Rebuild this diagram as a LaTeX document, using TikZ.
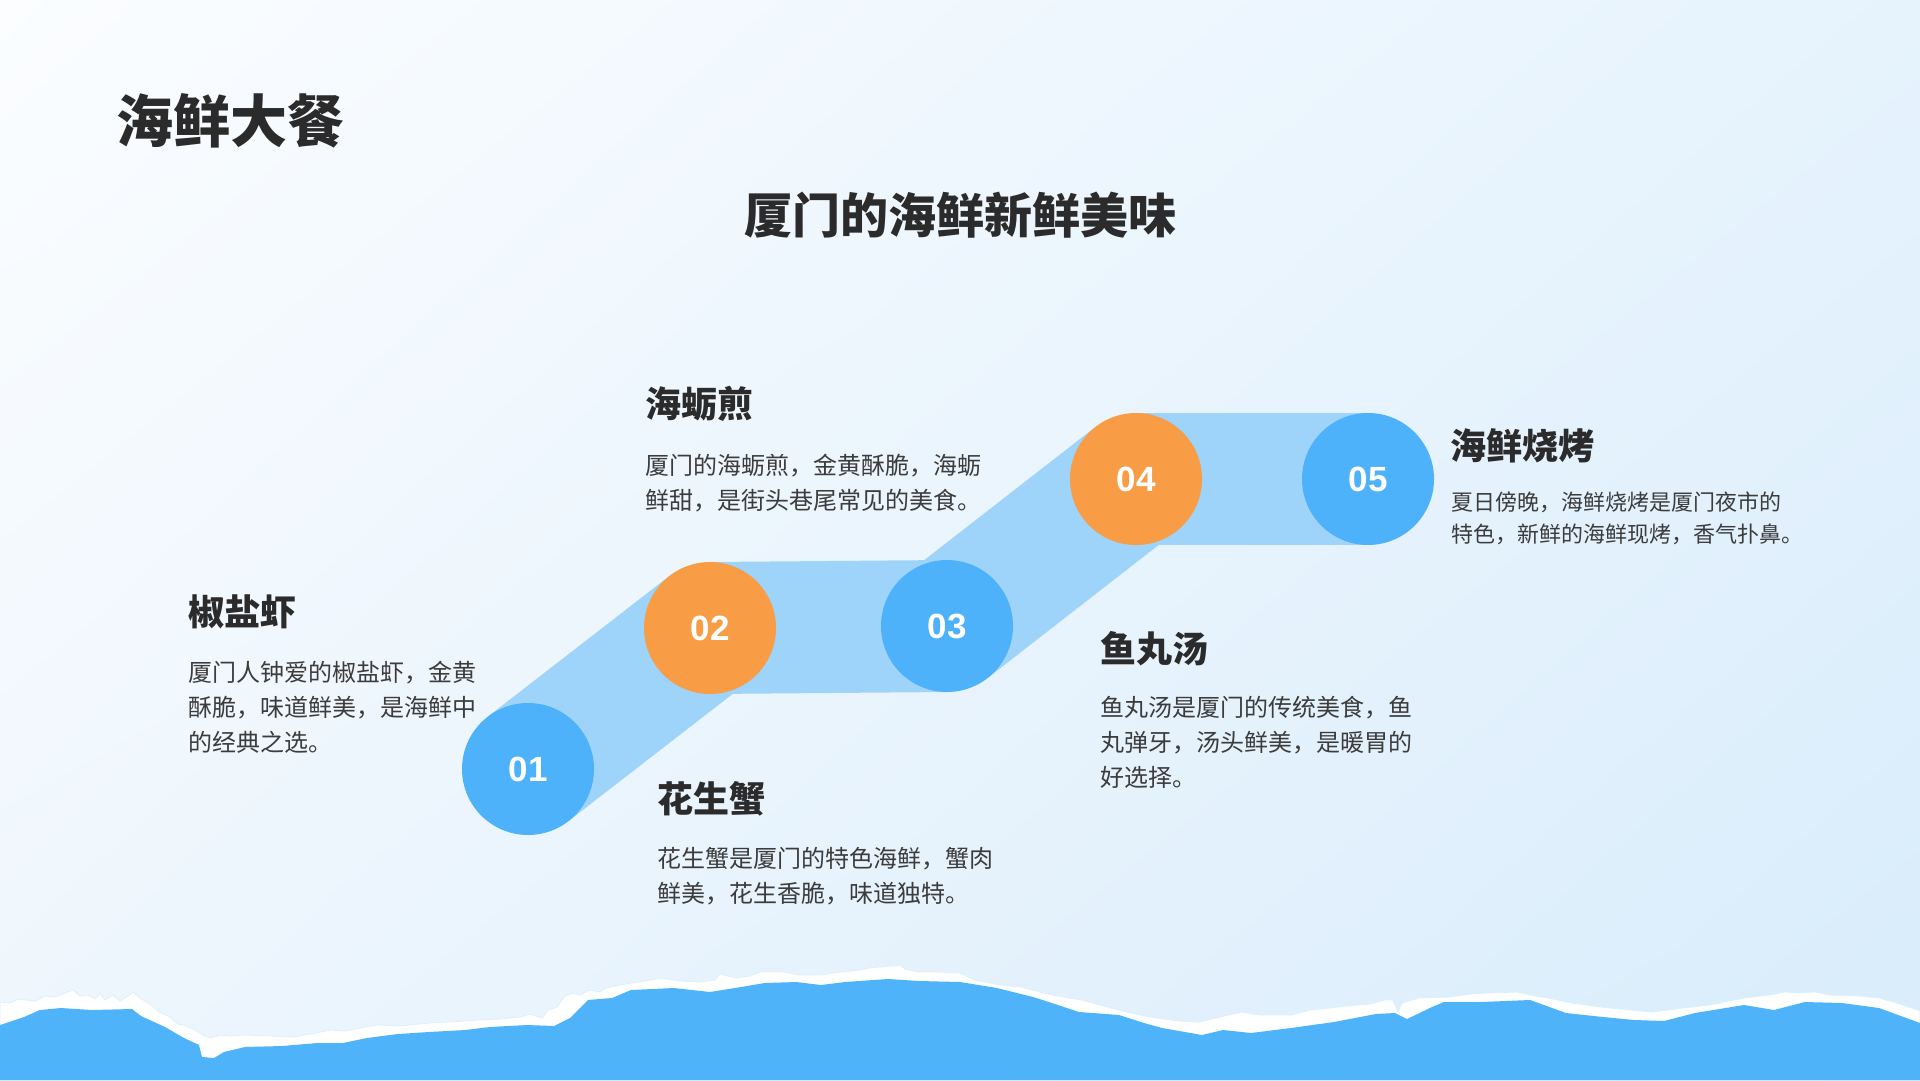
\documentclass[tikz,border=0pt]{standalone}
\usepackage{fontspec}
\usetikzlibrary{shadings}
\newfontfamily\cjk{Noto Sans CJK SC}
\newfontfamily\numfont{Liberation Sans}
\definecolor{circblue}{HTML}{4DB2FA}
\definecolor{circorange}{HTML}{F89D46}
\definecolor{bandblue}{HTML}{9ED3FA}
\definecolor{wave}{HTML}{4FB3FA}
\definecolor{headc}{HTML}{2B2B2B}
\definecolor{descc}{HTML}{3C3C3C}
\definecolor{bgtl}{HTML}{FBFDFF}
\definecolor{bgtr}{HTML}{E6F3FD}
\definecolor{bgbl}{HTML}{EEF6FD}
\definecolor{bgbr}{HTML}{D8ECFB}
\pgfdeclarelayer{bg}
\pgfsetlayers{bg,main}
\tikzset{
  circ/.style={circle, minimum size=132pt, inner sep=0pt, text=white,
    font=\numfont\bfseries\fontsize{35}{35}\selectfont},
  bluec/.style={circ, fill=circblue},
  orangec/.style={circ, fill=circorange},
  band/.style={line width=132pt, bandblue, line cap=butt},
  head/.style={anchor=base west, inner sep=0pt, text=headc,
    font=\cjk\bfseries\fontsize{36}{36}\selectfont},
  desc/.style={anchor=base west, inner sep=0pt, text=descc,
    font=\cjk\fontsize{24}{24}\selectfont},
  descsmall/.style={desc, font=\cjk\fontsize{22}{22}\selectfont},
}
\begin{document}
\begin{tikzpicture}[x=1pt,y=-1pt]
\useasboundingbox (0,0) rectangle (1920,1080);
\begin{pgfonlayer}{bg}
\shade[upper left=bgtl, upper right=bgtr, lower left=bgbl, lower right=bgbr] (0,0) rectangle (1920,1080);
\end{pgfonlayer}

% circles
\node[bluec]   (c1) at (528,769) {01};
\node[orangec] (c2) at (710,628) {02};
\node[bluec]   (c3) at (947,626) {03};
\node[orangec] (c4) at (1136,479) {04};
\node[bluec]   (c5) at (1368,479) {05};

\begin{pgfonlayer}{bg}
\draw[band] (c1.center) -- (c2.center);
\draw[band] (c2.center) -- (c3.center);
\draw[band] (c3.center) -- (c4.center);
\draw[band] (c4.center) -- (c5.center);
\end{pgfonlayer}

% titles
\node[anchor=base west, inner sep=0pt, text=headc, font=\cjk\bfseries\fontsize{57}{57}\selectfont] (title) at (116,142) {海鲜大餐};
\node[anchor=base, inner sep=0pt, text=headc, font=\cjk\bfseries\fontsize{48}{48}\selectfont] (subtitle) at (960,233) {厦门的海鲜新鲜美味};

% item 1
\node[head] (h1) at (188,625) {椒盐虾};
\node[desc] (d1a) at (188,681) {厦门人钟爱的椒盐虾，金黄};
\node[desc] (d1b) at (188,716) {酥脆，味道鲜美，是海鲜中};
\node[desc] (d1c) at (188,751) {的经典之选。};

% item 2
\node[head] (h2) at (645,417) {海蛎煎};
\node[desc] (d2a) at (645,474) {厦门的海蛎煎，金黄酥脆，海蛎};
\node[desc] (d2b) at (645,509) {鲜甜，是街头巷尾常见的美食。};

% item 3
\node[head] (h3) at (657,812) {花生蟹};
\node[desc] (d3a) at (657,867) {花生蟹是厦门的特色海鲜，蟹肉};
\node[desc] (d3b) at (657,902) {鲜美，花生香脆，味道独特。};

% item 4
\node[head] (h4) at (1100,662) {鱼丸汤};
\node[desc] (d4a) at (1100,716) {鱼丸汤是厦门的传统美食，鱼};
\node[desc] (d4b) at (1100,751) {丸弹牙，汤头鲜美，是暖胃的};
\node[desc] (d4c) at (1100,786) {好选择。};

% item 5
\node[head] (h5) at (1450,459) {海鲜烧烤};
\node[descsmall] (d5a) at (1451,510) {夏日傍晚，海鲜烧烤是厦门夜市的};
\node[descsmall] (d5b) at (1451,542) {特色，新鲜的海鲜现烤，香气扑鼻。};

% torn paper wave
\fill[white, draw=white!80!circblue, line width=0.8pt] (0,1080) -- (0,1002) -- (10,1003) -- (18,999) -- (26,1000) -- (35,1001) -- (45,996) -- (55,997) -- (65,993) -- (73,990) -- (80,996) -- (88,995) -- (95,999) -- (100,993) -- (105,1000) -- (113,995) -- (120,1001) -- (128,996) -- (133,992) -- (140,998) -- (150,1004) -- (159,1012) -- (170,1017) -- (178,1024) -- (184,1025) -- (195,1030) -- (205,1036) -- (211,1038) -- (220,1035) -- (230,1036) -- (245,1035) -- (270,1036) -- (294,1037) -- (310,1034) -- (331,1030) -- (345,1031) -- (360,1028) -- (370,1026) -- (380,1025) -- (400,1026) -- (429,1023) -- (450,1022) -- (478,1020) -- (500,1019) -- (520,1017) -- (530,1014) -- (542,1018) -- (548,1010) -- (557,1007) -- (565,996) -- (573,993) -- (580,995) -- (590,990) -- (600,992) -- (606,988) -- (620,985) -- (631,983) -- (645,981) -- (661,978) -- (680,981) -- (698,982) -- (715,980) -- (720,974) -- (735,978) -- (750,976) -- (760,972) -- (784,972) -- (800,975) -- (821,975) -- (840,972) -- (860,970) -- (870,968) -- (890,966) -- (900,965) -- (905,969) -- (919,972) -- (940,972) -- (960,973) -- (975,980) -- (1000,985) -- (1021,987) -- (1040,992) -- (1052,995) -- (1082,1000) -- (1100,1005) -- (1119,1010) -- (1140,1015) -- (1156,1018) -- (1180,1021) -- (1199,1022) -- (1220,1017) -- (1242,1012) -- (1260,1015) -- (1291,1015) -- (1310,1010) -- (1330,1008) -- (1345,1006) -- (1370,1004) -- (1385,1000) -- (1393,1000) -- (1398,1012) -- (1402,1003) -- (1419,998) -- (1450,997) -- (1470,994) -- (1487,993) -- (1517,992) -- (1535,996) -- (1548,998) -- (1572,1003) -- (1609,1008) -- (1630,1010) -- (1652,1012) -- (1683,1008) -- (1710,1005) -- (1744,998) -- (1770,995) -- (1785,992) -- (1799,993) -- (1815,992) -- (1830,995) -- (1860,996) -- (1879,998) -- (1900,1004) -- (1920,1011) -- (1920,1080) -- cycle;
\fill[wave] (0,1080) -- (0,1025) -- (24,1017) -- (40,1010) -- (61,1008) -- (92,1010) -- (132,1009) -- (141,1016) -- (165,1027) -- (184,1038) -- (199,1045) -- (202,1057) -- (214,1058) -- (224,1052) -- (245,1047) -- (282,1046) -- (318,1043) -- (343,1043) -- (367,1038) -- (398,1034) -- (429,1032) -- (465,1030) -- (490,1027) -- (527,1025) -- (554,1026) -- (570,1018) -- (588,1000) -- (612,998) -- (631,990) -- (674,988) -- (710,992) -- (735,988) -- (765,983) -- (796,982) -- (821,985) -- (845,982) -- (888,979) -- (919,981) -- (960,982) -- (997,988) -- (1033,997) -- (1052,1003) -- (1079,1012) -- (1119,1015) -- (1144,1023) -- (1162,1028) -- (1202,1035) -- (1223,1030) -- (1251,1033) -- (1291,1028) -- (1334,1022) -- (1376,1014) -- (1395,1013) -- (1407,1019) -- (1432,1007) -- (1444,1002) -- (1481,1002) -- (1530,1000) -- (1566,1013) -- (1603,1017) -- (1634,1020) -- (1664,1021) -- (1695,1013) -- (1744,1005) -- (1774,1010) -- (1805,1002) -- (1842,1003) -- (1879,1008) -- (1920,1023) -- (1920,1080) -- cycle;
\end{tikzpicture}
\end{document}
